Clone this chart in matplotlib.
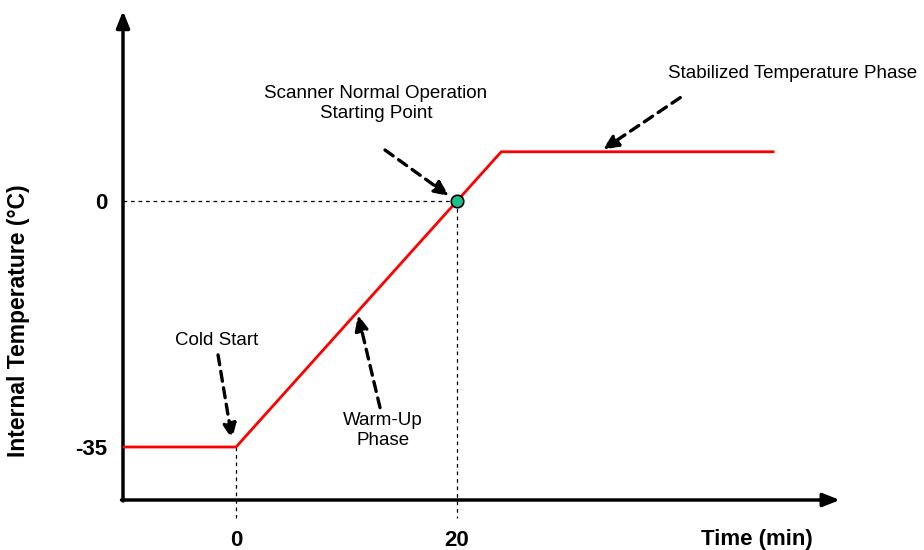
import matplotlib
matplotlib.use("Agg")
import matplotlib.pyplot as plt

# temperature profile (min, degC)
time_min = [-10.2, 0, 20, 24, 48.6]
temp_c = [-35, -35, 0, 7, 7]

x_ticks = [0, 20]
x_tick_labels = ["0", "20"]
y_ticks = [0, -35]
y_tick_labels = ["0", "-35"]

start_point = (20, 0)

plt.rcParams["font.family"] = ["Liberation Sans", "DejaVu Sans"]

fig = plt.figure(figsize=(9.24, 5.5), dpi=100)
ax = fig.add_axes([123 / 924, 50 / 550, 727 / 924, 492 / 550])
ax.set_xlim(-10.23, 55.56)
ax.set_ylim(-42.54, 27.45)
for s in ax.spines.values():
    s.set_visible(False)

# axes with arrow heads
arr = dict(arrowstyle="-|>,head_length=1.0,head_width=0.4", color="black", lw=2.5,
           shrinkA=0, shrinkB=0)
ax.annotate("", xy=(0.986, 0), xytext=(-0.002, 0), xycoords="axes fraction",
            textcoords="axes fraction", arrowprops=arr)
ax.annotate("", xy=(0, 0.994), xytext=(0, -0.002), xycoords="axes fraction",
            textcoords="axes fraction", arrowprops=arr)

# dashed guides
ax.plot([time_min[0], start_point[0]], [0, 0], ls=(0, (3, 3)), color="black", lw=0.9)
ax.plot([20, 20], [0, -45.1], ls=(0, (3, 3)), color="black", lw=0.9, clip_on=False)
ax.plot([0, 0], [-35, -45.1], ls=(0, (3, 3)), color="black", lw=0.9, clip_on=False)

ax.plot(time_min, temp_c, color="#ff0000", lw=2, zorder=3)
ax.plot(*start_point, "o", ms=9, mfc="#1fbf8c", mec="black", mew=1.2, zorder=4)

ax.set_xticks(x_ticks, x_tick_labels, fontsize=16, fontweight="bold")
ax.set_yticks(y_ticks, y_tick_labels, fontsize=16, fontweight="bold")
ax.tick_params(axis="x", length=0, pad=21.5)
ax.tick_params(axis="y", length=0, pad=11.5)

ax.text(47.15, -48.2, "Time (min)", ha="center", va="center", fontsize=16,
        fontweight="bold", clip_on=False)
ax.text(-0.144, 0.364, "Internal Temperature (\u00b0C)", rotation=90, ha="center",
        va="center", fontsize=16.5, fontweight="bold", transform=ax.transAxes)

# annotations
darr = dict(arrowstyle="-|>,head_length=0.9,head_width=0.4", color="black", lw=2.4,
            ls=(0, (3, 2)), shrinkA=0, shrinkB=0)
notes = [
    ("Cold Start", (-1.72, -19.9), (-1.63, -21.9), (-0.36, -33.9)),
    ("Warm-Up\nPhase", (13.3, -32.6), (13.03, -29.4), (11.04, -16.2)),
    ("Scanner Normal Operation\nStarting Point", (12.67, 13.9), (13.48, 7.25), (19.28, 0.7)),
    ("Stabilized Temperature Phase", (50.4, 18.2), (40.2, 14.7), (33.2, 7.3)),
]
for label, txt_xy, tail, tip in notes:
    ax.text(*txt_xy, label, ha="center", va="center", fontsize=13.5, linespacing=1.25,
            clip_on=False)
    ax.annotate("", xy=tip, xytext=tail, arrowprops=darr)

fig.savefig("out.png", dpi=100)
